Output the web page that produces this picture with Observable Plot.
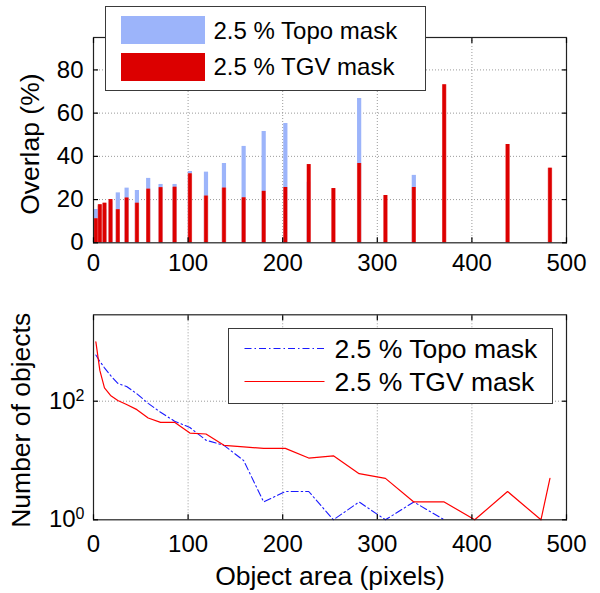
<!DOCTYPE html>
<html><head><meta charset="utf-8">
<script src="https://cdn.jsdelivr.net/npm/d3@7"></script>
<script src="https://cdn.jsdelivr.net/npm/@observablehq/plot@0.6"></script>
<style>
body{margin:0;background:#fff;}
#wrap{position:relative;width:600px;height:593px;font-family:"Liberation Sans",Arial,sans-serif;color:#000;}
#wrap svg{display:block;overflow:visible;}
.leg{position:absolute;background:#fff;border:1.5px solid #3a3a3a;box-sizing:border-box;}
.leg .item{position:absolute;white-space:nowrap;line-height:1;}
.leg .sw{position:absolute;}
</style></head><body><div id="wrap"></div>
<script>
// ---- data ----
const areaBins = [2.5, 6.7, 11.6, 18, 25.7, 35, 45.9, 57.8, 70.9, 85.7, 101.9, 118.9, 137.9, 158.7, 179.9, 202.8, 227.5, 253.6, 280.8, 308.6, 338.6, 370.7, 403, 437.7, 473, 482.5];
const overlapTopo = [15.4, 17, 15.3, 19, 23.1, 25.3, 24.2, 29.8, 27.0, 27.0, 33.0, 32.7, 36.7, 44.6, 51.5, 55.2, 28, 0, 66.8, 0, 31.2, 0, null, null, null, null];
const overlapTGV = [11.1, 17.6, 18.3, 20.0, 15.3, 20.7, 18.3, 24.8, 25.5, 25.7, 31.9, 21.6, 25.3, 20.8, 23.8, 25.6, 36.2, 25.1, 36.7, 21.9, 25.6, 73.1, 0, 45.5, 0, 34.5];
const countTopo = [600, 470, 366, 272, 200, 177, 133, 92, 65, 46, 36, 22, 18, 10, 2, 3, 3, 1, 2, 1, 2, 1, null, null, null, null];
const countTGV = [1000, 330, 168, 125, 103, 88, 72, 52, 44, 44, 29, 28, 18, 17, 16, 16, 11, 12, 6, 5, 2, 2, 1, 3, 1, 5];
const seriesNames = ["2.5 % Topo mask", "2.5 % TGV mask"];
const xTicks = [0, 100, 200, 300, 400, 500];
const yTicksTop = [0, 20, 40, 60, 80];
const yTicksBottom = [1, 100];

const FONT = "Liberation Sans, Arial, sans-serif";
const BLUEBAR = "#9cb4fa", REDBAR = "#dc0000";
const gridStyle = {stroke: "#9a9a9a", strokeOpacity: 1, strokeDasharray: "1,2", strokeWidth: 1};

const rows = areaBins.map((x, i) => ({x, topo: overlapTopo[i], tgv: overlapTGV[i], nTopo: countTopo[i], nTGV: countTGV[i]}));

function frameAxes(yTicks, pad) {
  return [
    Plot.frame({stroke: "#222", strokeWidth: 1.2}),
    Plot.axisX({ticks: xTicks, anchor: "bottom", tickSize: -5, tickFormat: () => "", label: null, strokeWidth: 1.2}),
    Plot.axisX({ticks: xTicks, anchor: "top", tickSize: -5, tickFormat: () => "", label: null, strokeWidth: 1.2}),
    Plot.axisY({ticks: yTicks, anchor: "left", tickSize: -5, tickFormat: () => "", label: null, strokeWidth: 1.2}),
    Plot.axisY({ticks: yTicks, anchor: "right", tickSize: -5, tickFormat: () => "", label: null, strokeWidth: 1.2}),
    Plot.axisX({ticks: xTicks, anchor: "bottom", tickSize: 0, tickPadding: pad, label: null, fontSize: 24})
  ];
}

const topPlot = Plot.plot({
  width: 600, height: 290,
  marginLeft: 93, marginRight: 34, marginTop: 37, marginBottom: 47.7,
  x: {domain: [0, 500]},
  y: {domain: [0, 95]},
  style: {fontFamily: FONT, fontSize: "24px", color: "#000", background: "#fff", overflow: "visible"},
  marks: [
    Plot.gridX(xTicks.slice(1, -1), gridStyle),
    Plot.gridY(yTicksTop.slice(1), gridStyle),
    Plot.ruleX(rows.filter(d => d.topo > 0), {x: "x", y1: 0, y2: "topo", stroke: BLUEBAR, strokeWidth: 4.2}),
    Plot.ruleX(rows.filter(d => d.tgv > 0), {x: "x", y1: 0, y2: "tgv", stroke: "#f07070", strokeWidth: 4.4}),
    Plot.ruleX(rows.filter(d => d.tgv > 0), {x: "x", y1: 0, y2: "tgv", stroke: REDBAR, strokeWidth: 3.4}),
    ...frameAxes(yTicksTop, 11),
    Plot.axisY({ticks: yTicksTop, anchor: "left", tickSize: 0, tickPadding: 10, label: null, fontSize: 24}),
    Plot.text(["Overlap (%)"], {frameAnchor: "left", text: d => d, rotate: -90, dx: -63, dy: 4,
      textAnchor: "middle", lineAnchor: "middle", fontSize: 26.5})
  ]
});

const bottomPlot = Plot.plot({
  width: 600, height: 303,
  marginLeft: 93, marginRight: 34, marginTop: 24.3, marginBottom: 73.7,
  x: {domain: [0, 500]},
  y: {type: "log", domain: [1, 2864]},
  style: {fontFamily: FONT, fontSize: "24px", color: "#000", background: "#fff", overflow: "visible"},
  marks: [
    Plot.gridX(xTicks.slice(1, -1), gridStyle),
    Plot.gridY([100], gridStyle),
    Plot.line(rows.filter(d => d.nTopo != null), {x: "x", y: "nTopo", stroke: "#1a1aff", strokeWidth: 1.1, strokeDasharray: "7,3,1.5,3"}),
    Plot.line(rows.filter(d => d.nTGV != null), {x: "x", y: "nTGV", stroke: "#ff0000", strokeWidth: 1.2}),
    ...frameAxes(yTicksBottom, 15),
    Plot.axisY({ticks: yTicksBottom, anchor: "left", tickSize: 0, tickPadding: 9, label: null, fontSize: 24,
      tickFormat: d => "10^" + Math.round(Math.log10(d))}),
    Plot.text(["Number of objects"], {frameAnchor: "left", text: d => d, rotate: -90, dx: -72, dy: 3,
      textAnchor: "middle", lineAnchor: "middle", fontSize: 26.5}),
    Plot.text(["Object area (pixels)"], {frameAnchor: "bottom", text: d => d, dy: 57,
      textAnchor: "middle", lineAnchor: "middle", fontSize: 26.5})
  ]
});

// superscript exponents on the log axis labels
bottomPlot.querySelectorAll("text").forEach(t => {
  const m = /^10\^(\d+)$/.exec(t.textContent);
  if (m) {
    t.textContent = "10";
    const ts = document.createElementNS("http://www.w3.org/2000/svg", "tspan");
    ts.setAttribute("dy", "-0.5em");
    ts.setAttribute("font-size", "16");
    ts.textContent = m[1];
    t.appendChild(ts);
  }
});

const wrap = document.getElementById("wrap");
wrap.appendChild(topPlot);
wrap.appendChild(bottomPlot);

// legend: top (bar swatches)
const legTop = document.createElement("div");
legTop.className = "leg";
Object.assign(legTop.style, {left: "105px", top: "6px", width: "321px", height: "85px"});
[[BLUEBAR, 8.5, 11.5, seriesNames[0]], [REDBAR, 46, 48, seriesNames[1]]].forEach(([c, y, ty, label]) => {
  const sw = document.createElement("div");
  sw.className = "sw";
  Object.assign(sw.style, {left: "14.5px", top: y + "px", width: "84px", height: "28px", background: c});
  legTop.appendChild(sw);
  const tx = document.createElement("div");
  tx.className = "item";
  Object.assign(tx.style, {left: "107.5px", top: ty + "px", fontSize: "24px"});
  tx.textContent = label;
  legTop.appendChild(tx);
});
wrap.appendChild(legTop);

// legend: bottom (line samples)
const legBot = document.createElement("div");
legBot.className = "leg";
Object.assign(legBot.style, {left: "228px", top: "328px", width: "325px", height: "76px"});
legBot.innerHTML = `<svg width="100" height="73" style="position:absolute;left:0;top:0">
  <line x1="15.5" x2="95.5" y1="19.5" y2="19.5" stroke="#1a1aff" stroke-width="1.1" stroke-dasharray="7,3,1.5,3"/>
  <line x1="15.5" x2="95.5" y1="52.5" y2="52.5" stroke="#ff0000" stroke-width="1.2"/></svg>`;
[[6.5, seriesNames[0]], [39.5, seriesNames[1]]].forEach(([y, label]) => {
  const tx = document.createElement("div");
  tx.className = "item";
  Object.assign(tx.style, {left: "105.5px", top: y + "px", fontSize: "26.5px"});
  tx.textContent = label;
  legBot.appendChild(tx);
});
wrap.appendChild(legBot);
</script></body></html>
